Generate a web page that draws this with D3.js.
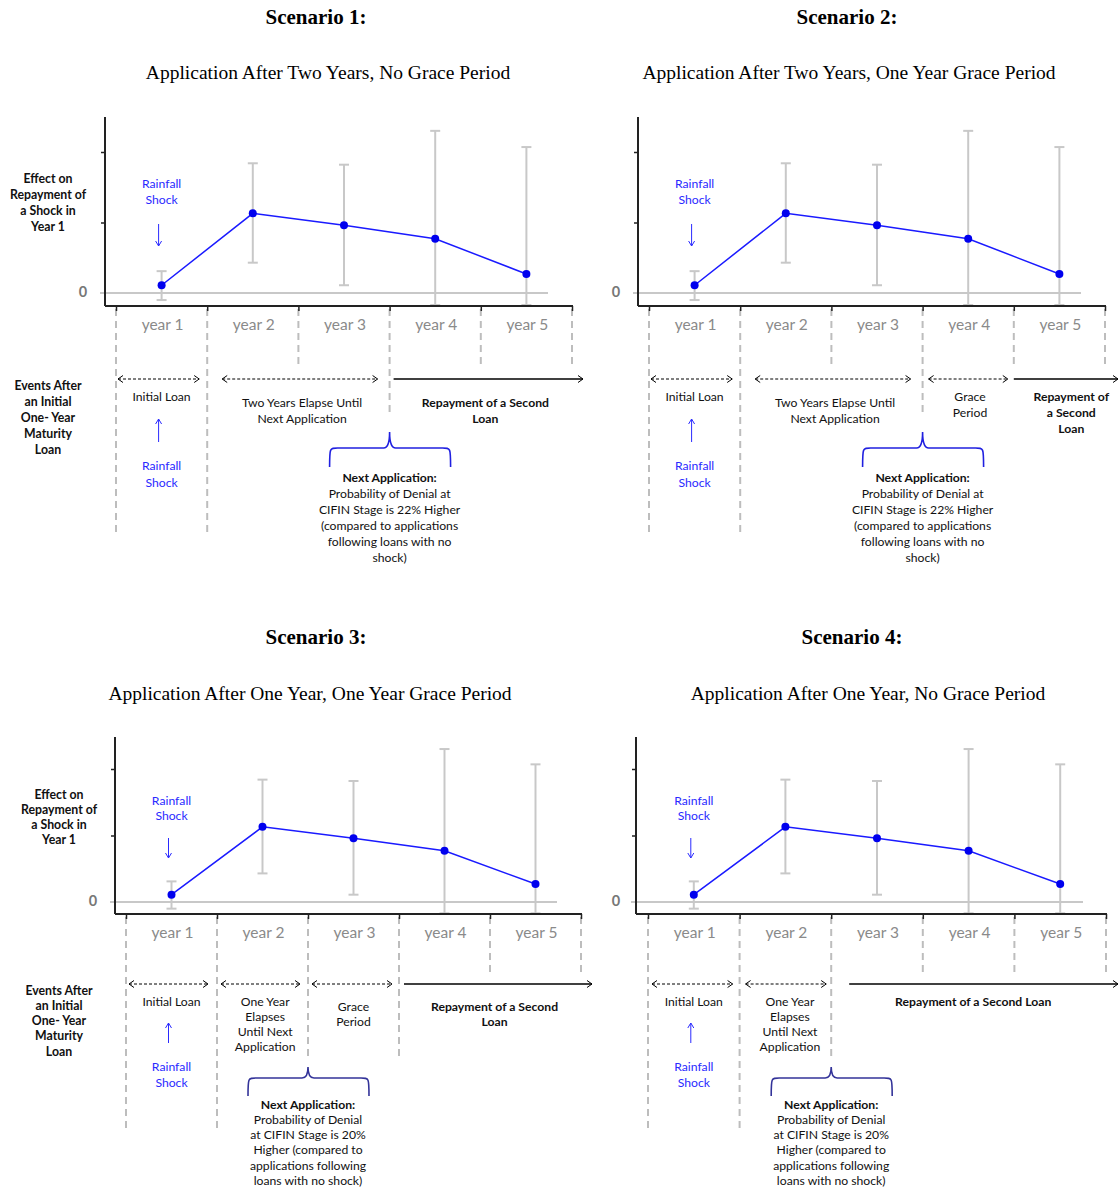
<!DOCTYPE html>
<html><head><meta charset="utf-8">
<script src="https://cdn.jsdelivr.net/npm/d3@7"></script>
<style>body{margin:0;background:#fff}svg{display:block}</style>
</head><body>
<script>
// ---- data ----
const years = ["year 1","year 2","year 3","year 4","year 5"];
const effect = [0.11, 1.13, 0.96, 0.77, 0.27];
const ciLow  = [-0.10, 0.43, 0.11, -0.17, -0.17];
const ciHigh = [0.31, 1.84, 1.82, 2.30, 2.07];
const yTicks = [1, 2];
const scenarioTitles = ["Scenario 1:","Scenario 2:","Scenario 3:","Scenario 4:"];
const scenarioSubtitles = [
  "Application After Two Years, No Grace Period",
  "Application After Two Years, One Year Grace Period",
  "Application After One Year, One Year Grace Period",
  "Application After One Year, No Grace Period"];
const effectLabel = ["Effect on","Repayment of","a Shock in","Year 1"];
const eventsLabel = ["Events After","an Initial","One- Year","Maturity","Loan"];
const shockLabel = ["Rainfall","Shock"];
const nextAppTop = ["Next Application:","Probability of Denial at","CIFIN Stage is 22% Higher","(compared to applications","following loans with no","shock)"];
const nextAppBottom = ["Next Application:","Probability of Denial","at CIFIN Stage is 20%","Higher (compared to","applications following","loans with no shock)"];

const W = 1118, H = 1188;
const svg = d3.select("body").append("svg").attr("width",W).attr("height",H);
const SANS = "Lato, 'Open Sans', sans-serif";
const SERIF = "'Liberation Serif', 'Times New Roman', serif";
const BLUE = "#1a1aff";

function chevron(g, x, y, dir){
  g.append("path").attr("d",`M${x-dir*5},${y-3.5}L${x},${y}L${x-dir*5},${y+3.5}`)
   .attr("fill","none").attr("stroke","#000").attr("stroke-width",1);
}
function hArrow(g, x1, x2, y, dashed){
  g.append("line").attr("x1",x1).attr("x2",x2).attr("y1",y).attr("y2",y)
   .attr("stroke","#000").attr("stroke-width",dashed?1:1.6)
   .attr("stroke-dasharray",dashed?"3,2":null);
  if(dashed) chevron(g, x1, y, -1);
  chevron(g, x2, y, 1);
}
function lines(g, arr, x, y0, lh, opts){
  opts = opts||{};
  arr.forEach((t,i)=>{
    g.append("text").attr("x",x).attr("y",y0+i*lh).text(t)
     .attr("text-anchor","middle").attr("dominant-baseline","central")
     .attr("font-family",SANS).attr("font-size",opts.size||12.2)
     .attr("font-weight",(opts.boldFirst&&i===0)||opts.bold?"bold":"normal")
     .attr("fill",opts.color||"#111");
  });
}

const panels = [
 {title:[316,17], sub:[328,72], axisX:105, b0:116, b5:572, y0:293, y2:152, top:117, bottom:306,
  zl:[100,548], left:true, leftX:48, effY:178, evY:385, lh:16, zeroX:83,
  dashEnd:[535,535,368,412,368,368], evY0:379,
  arrows:[[0,2,1,-8,true],[1,15,3,-12,true],[3,4,5,11,false]],
  texts:[{t:["Initial Loan"],x:0.5,y:396},{t:["Two Years Elapse Until","Next Application"],x:2.04,y:402},
         {t:["Repayment of a Second","Loan"],x:4.05,y:402,bold:true}],
  brace:{tip:3,yTip:432,yTop:448,yLeg:467,color:"#2020e0"}, nextY:477, next:nextAppTop,
  shockTop:[183,224,246], shockBot:[442,419,465]},
 {title:[847,17], sub:[849,72], axisX:638, b0:649, b5:1105, y0:293, y2:152, top:117, bottom:306,
  zl:[633,1081], left:false, lh:16, zeroX:616,
  dashEnd:[535,535,368,412,368,368], evY0:379,
  arrows:[[0,2,1,-8,true],[1,15,3,-12,true],[3,6,4,-6,true],[4,0,5,13,false]],
  texts:[{t:["Initial Loan"],x:0.5,y:396},{t:["Two Years Elapse Until","Next Application"],x:2.04,y:402},
         {t:["Grace","Period"],x:3.52,y:396},{t:["Repayment of","a Second","Loan"],x:4.63,y:396,bold:true}],
  brace:{tip:3,yTip:432,yTop:448,yLeg:467,color:"#2020e0"}, nextY:477, next:nextAppTop,
  shockTop:[183,224,246], shockBot:[442,419,465]},
 {title:[316,637], sub:[310,693], axisX:115, b0:126, b5:581, y0:902, y2:769, top:737, bottom:914,
  zl:[110,557], left:true, leftX:59, effY:794, evY:990, lh:15.3, zeroX:93,
  dashEnd:[1130,1130,1060,1060,972,972], evY0:984,
  arrows:[[0,3,1,-9,true],[1,4,2,-8,true],[2,4,3,-7,true],[3,5,5,11,false]],
  texts:[{t:["Initial Loan"],x:0.5,y:1001},{t:["One Year","Elapses","Until Next","Application"],x:1.53,y:1001},
         {t:["Grace","Period"],x:2.5,y:1006},{t:["Repayment of a Second","Loan"],x:4.05,y:1006,bold:true}],
  brace:{tip:2,yTip:1067,yTop:1078,yLeg:1096,color:"#333399"}, nextY:1104, next:nextAppBottom,
  shockTop:[800,838,858], shockBot:[1043,1023,1066]},
 {title:[852,637], sub:[868,693], axisX:636, b0:648, b5:1106, y0:902, y2:769, top:737, bottom:914,
  zl:[631,1083], left:false, lh:15.3, zeroX:616,
  dashEnd:[1130,1130,1058,972,972,972], evY0:984,
  arrows:[[0,4,1,-7,true],[1,6,2,-5,true],[2,18,5,12,false]],
  texts:[{t:["Initial Loan"],x:0.5,y:1001},{t:["One Year","Elapses","Until Next","Application"],x:1.55,y:1001},
         {t:["Repayment of a Second Loan"],x:3.55,y:1001,bold:true}],
  brace:{tip:2,yTip:1067,yTop:1078,yLeg:1096,color:"#333399"}, nextY:1104, next:nextAppBottom,
  shockTop:[800,838,858], shockBot:[1043,1023,1066]}
];

panels.forEach((p,pi)=>{
  const g = svg.append("g");
  g.append("text").attr("x",p.title[0]).attr("y",p.title[1]).text(scenarioTitles[pi])
   .attr("text-anchor","middle").attr("dominant-baseline","central")
   .attr("font-family",SERIF).attr("font-size",21).attr("font-weight","bold");
  g.append("text").attr("x",p.sub[0]).attr("y",p.sub[1]).text(scenarioSubtitles[pi])
   .attr("text-anchor","middle").attr("dominant-baseline","central")
   .attr("font-family",SERIF).attr("font-size",19.5);

  const b = d3.scaleLinear().domain([0,5]).range([p.b0,p.b5]);
  const xc = d3.scaleBand().domain(years).range([p.b0,p.b5]).padding(0);
  const cx = d => xc(d)+xc.bandwidth()/2;
  const y = d3.scaleLinear().domain([0,2]).range([p.y0,p.y2]);

  d3.range(6).forEach(i=>{
    g.append("line").attr("x1",b(i)).attr("x2",b(i)).attr("y1",p.bottom+3).attr("y2",p.dashEnd[i])
     .attr("stroke","#bdbdbd").attr("stroke-width",2).attr("stroke-dasharray","7,5");
  });

  g.append("line").attr("x1",p.zl[0]).attr("x2",p.zl[1]).attr("y1",y(0)).attr("y2",y(0))
   .attr("stroke","#c8c8c8").attr("stroke-width",2);

  years.forEach((yr,i)=>{
    const x = cx(yr);
    g.append("line").attr("x1",x).attr("x2",x).attr("y1",y(ciLow[i])).attr("y2",y(ciHigh[i]))
     .attr("stroke","#c8c8c8").attr("stroke-width",2);
    [ciLow[i],ciHigh[i]].forEach(v=>g.append("line").attr("x1",x-5).attr("x2",x+5)
      .attr("y1",y(v)).attr("y2",y(v)).attr("stroke","#c8c8c8").attr("stroke-width",2));
  });

  const line = d3.line().x((d,i)=>cx(years[i])).y(d=>y(d));
  g.append("path").datum(effect).attr("d",line).attr("fill","none").attr("stroke",BLUE).attr("stroke-width",1.5);
  g.selectAll(".pt").data(effect).enter().append("circle")
   .attr("cx",(d,i)=>cx(years[i])).attr("cy",d=>y(d)).attr("r",4).attr("fill","#0000ee");

  const ya = g.append("g").attr("transform",`translate(${p.axisX},0)`)
    .call(d3.axisLeft(y).tickValues(yTicks).tickFormat("").tickSize(4).tickSizeOuter(0));
  ya.select(".domain").remove();
  ya.selectAll(".tick line").attr("stroke","#222").attr("stroke-width",1.5);
  g.append("line").attr("x1",p.axisX).attr("x2",p.axisX).attr("y1",p.top).attr("y2",p.bottom)
   .attr("stroke","#222").attr("stroke-width",2);
  const xa = g.append("g").attr("transform",`translate(0,${p.bottom})`)
    .call(d3.axisBottom(b).tickValues(d3.range(6)).tickFormat("").tickSize(5).tickSizeOuter(0));
  xa.select(".domain").remove();
  xa.selectAll(".tick line").attr("stroke","#222").attr("stroke-width",1.5);
  g.append("line").attr("x1",p.axisX).attr("x2",p.b5+1).attr("y1",p.bottom).attr("y2",p.bottom)
   .attr("stroke","#222").attr("stroke-width",2);
  years.forEach(yr=>g.append("text").attr("x",cx(yr)+1).attr("y",p.bottom+18).text(yr)
    .attr("text-anchor","middle").attr("dominant-baseline","central")
    .attr("font-family",SANS).attr("font-size",15.5).attr("fill","#8a8a8a"));
  g.append("text").attr("x",p.zeroX).attr("y",y(0)-2).text("0").attr("text-anchor","middle")
   .attr("dominant-baseline","central").attr("font-family",SANS).attr("font-size",14.5)
   .attr("font-weight","bold").attr("fill","#777");

  if(p.left){
    lines(g, effectLabel, p.leftX, p.effY, p.lh, {bold:true, size:12.3});
    lines(g, eventsLabel, p.leftX, p.evY, p.lh, {bold:true, size:12.3});
  }

  const sx = cx(years[0]);
  lines(g, shockLabel, sx, p.shockTop[0], p.lh, {color:"#2a2aff"});
  g.append("line").attr("x1",sx-3).attr("x2",sx-3).attr("y1",p.shockTop[1]).attr("y2",p.shockTop[2])
   .attr("stroke","#2a2aff").attr("stroke-width",1);
  g.append("path").attr("d",`M${sx-6},${p.shockTop[2]-5}L${sx-3},${p.shockTop[2]}L${sx},${p.shockTop[2]-5}`)
   .attr("fill","none").attr("stroke","#2a2aff");
  g.append("line").attr("x1",sx-3).attr("x2",sx-3).attr("y1",p.shockBot[0]).attr("y2",p.shockBot[1])
   .attr("stroke","#2a2aff").attr("stroke-width",1);
  g.append("path").attr("d",`M${sx-6},${p.shockBot[1]+5}L${sx-3},${p.shockBot[1]}L${sx},${p.shockBot[1]+5}`)
   .attr("fill","none").attr("stroke","#2a2aff");
  lines(g, shockLabel, sx, p.shockBot[2], p.lh+1, {color:"#2a2aff"});

  p.arrows.forEach(a=>hArrow(g, b(a[0])+a[1], b(a[2])+a[3], p.evY0, a[4]));
  p.texts.forEach(t=>lines(g, t.t, b(t.x), t.y, p.lh, {bold:t.bold}));

  const br = p.brace, tx = b(br.tip), x1 = tx-60, x2 = tx+61;
  g.append("path").attr("d",
    `M${x1},${br.yLeg}C${x1},${br.yTop} ${x1},${br.yTop} ${x1+8},${br.yTop}L${tx-6},${br.yTop}`+
    `Q${tx},${br.yTop} ${tx},${br.yTip}Q${tx},${br.yTop} ${tx+6},${br.yTop}L${x2-8},${br.yTop}`+
    `C${x2},${br.yTop} ${x2},${br.yTop} ${x2},${br.yLeg}`)
   .attr("fill","none").attr("stroke",br.color).attr("stroke-width",1.6);
  lines(g, p.next, tx, p.nextY, p.lh, {boldFirst:true});
});
</script>
</body></html>
